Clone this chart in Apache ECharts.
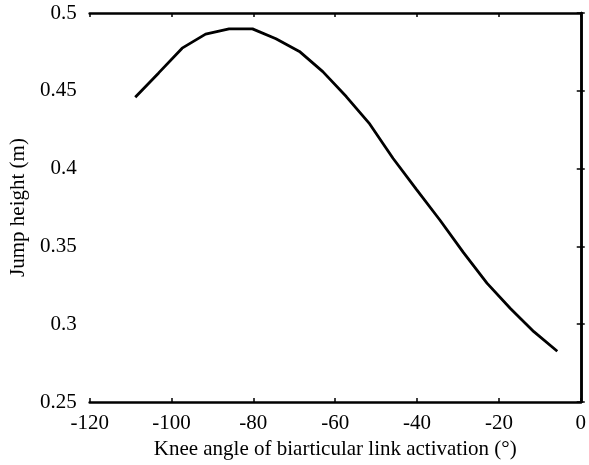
<!DOCTYPE html>
<html>
<head>
<meta charset="utf-8">
<script src="https://cdn.jsdelivr.net/npm/echarts@6/dist/echarts.min.js"></script>
<style>
html,body{margin:0;padding:0;background:#fff;}
#c{width:589px;height:465px;}
</style>
</head>
<body>
<div id="c"></div>
<script>
// Knee angle (deg) of biarticular link activation
var kneeAngle = [-108.86, -103.13, -97.40, -91.67, -85.94, -80.21, -74.48, -68.75, -63.03, -57.30,
                 -51.57, -45.84, -40.11, -34.38, -28.65, -22.92, -17.19, -11.46, -5.73];
// Jump height (m)
var jumpHeight = [0.4458, 0.4615, 0.4774, 0.4864, 0.4898, 0.4898, 0.4834, 0.4753, 0.4623, 0.4463,
                  0.4287, 0.4065, 0.3865, 0.3668, 0.3460, 0.3264, 0.3101, 0.2952, 0.2826];
var xTicks = [-120, -100, -80, -60, -40, -20, 0];
var yTicks = [0.25, 0.3, 0.35, 0.4, 0.45, 0.5];

var font = '"Liberation Serif", "Times New Roman", serif';
var data = kneeAngle.map(function (x, i) { return [x, jumpHeight[i]]; });

var axisLine = { show: true, lineStyle: { color: '#000', width: 2.5 } };
var tick = { show: true, inside: true, length: 4, lineStyle: { color: '#000', width: 1.5 } };
var chart = echarts.init(document.getElementById('c'));
chart.setOption({
  animation: false,
  backgroundColor: '#fff',
  grid: { left: 89, right: 3, top: 13, bottom: 61, containLabel: false },
  xAxis: [{
    type: 'value', min: xTicks[0], max: xTicks[xTicks.length - 1], interval: 20,
    position: 'bottom',
    axisLine: axisLine,
    axisTick: tick,
    axisLabel: { color: '#000', fontFamily: font, fontSize: 21, margin: 11 },
    splitLine: { show: false },
    name: 'Knee angle of biarticular link activation (°)',
    nameLocation: 'middle', nameGap: 37,
    nameTextStyle: { color: '#000', fontFamily: font, fontSize: 21 }
  }, {
    type: 'value', min: xTicks[0], max: xTicks[xTicks.length - 1], interval: 20,
    position: 'top',
    axisLine: axisLine,
    axisTick: tick,
    axisLabel: { show: false },
    splitLine: { show: false }
  }],
  yAxis: [{
    type: 'value', min: yTicks[0], max: yTicks[yTicks.length - 1], interval: 0.05,
    position: 'left',
    axisLine: axisLine,
    axisTick: tick,
    axisLabel: { color: '#000', fontFamily: font, fontSize: 21, margin: 13 },
    splitLine: { show: false },
    name: 'Jump height (m)',
    nameLocation: 'middle', nameGap: 57,
    nameTextStyle: { color: '#000', fontFamily: font, fontSize: 21 }
  }, {
    type: 'value', min: yTicks[0], max: yTicks[yTicks.length - 1], interval: 0.05,
    position: 'right',
    axisLine: axisLine,
    axisTick: tick,
    axisLabel: { show: false },
    splitLine: { show: false }
  }],
  series: [{
    type: 'line',
    data: data,
    showSymbol: false,
    smooth: false,
    lineStyle: { color: '#000', width: 2.8 }
  }]
});
</script>
</body>
</html>
